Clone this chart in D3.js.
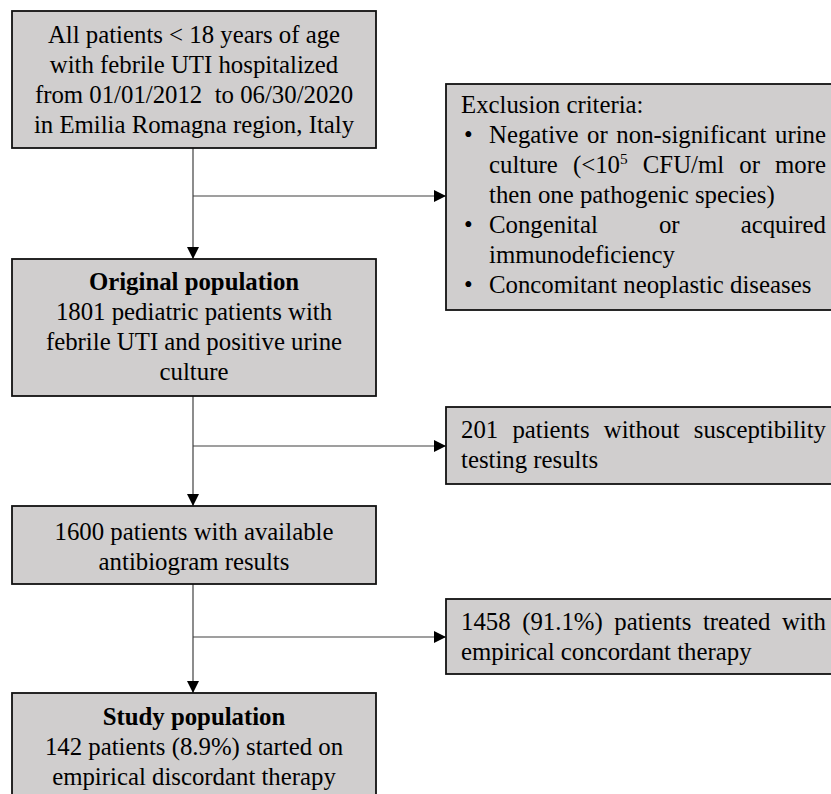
<!DOCTYPE html>
<html>
<head>
<meta charset="utf-8">
<script src="https://cdn.jsdelivr.net/npm/d3@7"></script>
<style>
  html, body { margin: 0; padding: 0; background: #fff; }
  svg { display: block; }
</style>
</head>
<body>
<svg id="chart" width="831" height="794"></svg>
<script>
// ---- Data (content of the flow chart) ----
const stepIds = ["source", "original", "available", "study"];
const sideIds = ["exclusion", "noTesting", "concordant"];
const patientCounts = [1801, 201, 1600, 1458, 142];
const percentages = ["91.1%", "8.9%"];

const sourceLines = [
  "All patients < 18 years of age",
  "with febrile UTI hospitalized",
  "from 01/01/2012  to 06/30/2020",
  "in Emilia Romagna region, Italy"
];
const originalLines = [
  "**Original population",
  "1801 pediatric patients with",
  "febrile UTI and positive urine",
  "culture"
];
const availableLines = [
  "1600 patients with available",
  "antibiogram results"
];
const studyLines = [
  "**Study population",
  "142 patients (8.9%) started on",
  "empirical discordant therapy"
];
const exclusionLines = [
  "Exclusion criteria:",
  "• Negative or non-significant urine",
  "> culture (<10^5 CFU/ml or more",
  "> then one pathogenic species)",
  "• Congenital or acquired",
  "> immunodeficiency",
  "• Concomitant neoplastic diseases"
];
const exclusionJustify = [false, true, true, false, true, false, false];
const noTestingLines = ["201 patients without susceptibility", "testing results"];
const noTestingJustify = [true, false];
const concordantLines = ["1458 (91.1%) patients treated with", "empirical concordant therapy"];
const concordantJustify = [true, false];

// ---- Layout (pixel scales) ----
const svg = d3.select("#chart");
const W = 831, H = 794;
const x = d3.scaleLinear().domain([0, 1]).range([0, W]);
const y = d3.scaleLinear().domain([0, 1]).range([0, H]);

const FONT = "'Liberation Serif', 'Times New Roman', serif";
const FS = 24.8;
const LH = 30;
const FILL = "#d0cece";

const leftL = 12, leftR = 376, trunkX = 193;
const rightL = 446, rightR = 833;

const leftBoxes = [
  {id: "source", top: 11, bottom: 148, lines: sourceLines, base: 43},
  {id: "original", top: 259, bottom: 396, lines: originalLines, base: 290},
  {id: "available", top: 506, bottom: 584, lines: availableLines, base: 540},
  {id: "study", top: 693, bottom: 810, lines: studyLines, base: 725}
];
const rightBoxes = [
  {id: "exclusion", top: 84, bottom: 310, lines: exclusionLines, just: exclusionJustify, base: 113},
  {id: "noTesting", top: 407, bottom: 484, lines: noTestingLines, just: noTestingJustify, base: 438},
  {id: "concordant", top: 599, bottom: 674, lines: concordantLines, just: concordantJustify, base: 630}
];
const branchY = [196, 446, 637];

// arrow marker
const defs = svg.append("defs");
defs.append("marker")
  .attr("id", "arrow")
  .attr("viewBox", "0 0 10 10")
  .attr("refX", 10).attr("refY", 5)
  .attr("markerWidth", 12).attr("markerHeight", 12)
  .attr("markerUnits", "userSpaceOnUse")
  .attr("orient", "auto")
  .append("path").attr("d", "M0,0 L10,5 L0,10 Z").attr("fill", "#000");

// connectors
const conn = svg.append("g").attr("stroke", "#404040").attr("stroke-width", 1.2).attr("fill", "none");
for (let i = 0; i < 3; i++) {
  conn.append("line")
    .attr("x1", x(trunkX / W)).attr("y1", y(leftBoxes[i].bottom / H))
    .attr("x2", x(trunkX / W)).attr("y2", y(leftBoxes[i + 1].top / H))
    .attr("marker-end", "url(#arrow)");
  conn.append("line")
    .attr("x1", x(trunkX / W)).attr("y1", y(branchY[i] / H))
    .attr("x2", x(rightL / W)).attr("y2", y(branchY[i] / H))
    .attr("marker-end", "url(#arrow)");
}

// boxes
function drawBox(b, l, r) {
  svg.append("rect")
    .attr("x", x(l / W)).attr("y", y(b.top / H))
    .attr("width", x(r / W) - x(l / W)).attr("height", y(b.bottom / H) - y(b.top / H))
    .attr("fill", FILL).attr("stroke", "#111").attr("stroke-width", 1.8);
}
leftBoxes.forEach(b => drawBox(b, leftL, leftR));
rightBoxes.forEach(b => drawBox(b, rightL, rightR));

const textG = svg.append("g").attr("font-family", FONT).attr("font-size", FS).attr("fill", "#000");

// word renderer with superscripts (^)
function addWord(g, word, xpos, base, bold) {
  const t = g.append("text").attr("x", xpos).attr("y", base)
    .attr("font-weight", bold ? "bold" : "normal");
  const m = word.split("^");
  t.append("tspan").text(m[0]);
  if (m.length > 1) {
    const sup = m[1].charAt(0), rest = m[1].slice(1);
    t.append("tspan").attr("dy", -9).attr("font-size", FS * 0.62).text(sup);
    if (rest) t.append("tspan").attr("dy", 9).text(rest);
  }
  return t;
}

// centred text for left column
leftBoxes.forEach(b => {
  const cx = (leftL + leftR) / 2;
  b.lines.forEach((ln, i) => {
    const bold = ln.startsWith("**");
    const s = bold ? ln.slice(2) : ln;
    textG.append("text")
      .attr("x", x(cx / W)).attr("y", b.base + i * LH)
      .attr("text-anchor", "middle")
      .attr("font-weight", bold ? "bold" : "normal")
      .attr("xml:space", "preserve")
      .style("white-space", "pre")
      .text(s);
  });
});

// left-aligned / justified text for right column
const txtRight = 826;
rightBoxes.forEach(b => {
  b.lines.forEach((ln, i) => {
    const base = b.base + i * LH;
    let s = ln, startX = 461;
    if (s.startsWith("• ")) {
      textG.append("text").attr("x", 464).attr("y", base).text("•");
      s = s.slice(2); startX = 489;
    } else if (s.startsWith("> ")) {
      s = s.slice(2); startX = 489;
    }
    const words = s.split(" ");
    const els = words.map(w => addWord(textG, w, startX, base, false));
    const widths = els.map(e => e.node().getComputedTextLength());
    const total = d3.sum(widths);
    const spaceW = FS * 0.25;
    const gap = (b.just[i] && words.length > 1) ? (txtRight - startX - total) / (words.length - 1) : spaceW;
    let cx = startX;
    els.forEach((e, k) => { e.attr("x", cx); cx += widths[k] + gap; });
  });
});
</script>
</body>
</html>
